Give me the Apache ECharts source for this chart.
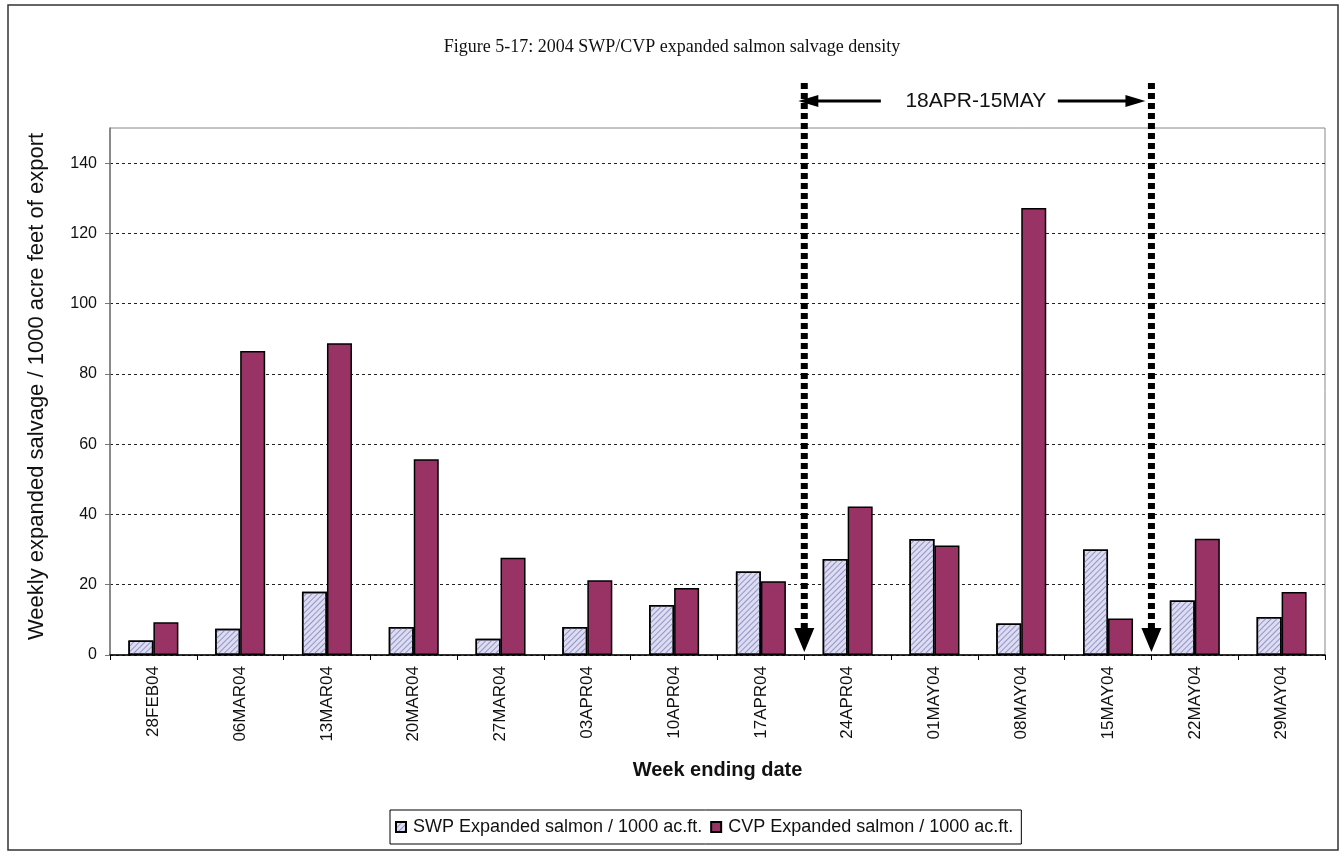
<!DOCTYPE html>
<html>
<head>
<meta charset="utf-8">
<script src="https://cdn.jsdelivr.net/npm/echarts@6/dist/echarts.min.js"></script>
<style>
  html, body { margin: 0; padding: 0; background: #fff; }
  #chart { width: 1344px; height: 852px; }
</style>
</head>
<body>
<div id="chart"></div>
<script>
// week ending dates
var weeks = ['28FEB04', '06MAR04', '13MAR04', '20MAR04', '27MAR04', '03APR04', '10APR04',
             '17APR04', '24APR04', '01MAY04', '08MAY04', '15MAY04', '22MAY04', '29MAY04'];
// expanded salmon per 1000 ac.ft.
var swpDensity = [4.1, 7.5, 18.0, 8.0, 4.6, 8.0, 14.2, 23.8, 27.3, 33.0, 9.0, 30.0, 15.5, 10.8];
var cvpDensity = [9.3, 86.5, 88.7, 55.7, 27.7, 21.3, 19.1, 21.0, 42.3, 31.2, 127.2, 10.4, 33.1, 17.9];
var yTicks = { min: 0, max: 150, interval: 20 };
// window marked on the chart: between 17APR04|24APR04 and 15MAY04|22MAY04
var windowLabel = '18APR-15MAY';
var windowStart = 7, windowEnd = 11;

var chart = echarts.init(document.getElementById('chart'));

var option = {
  animation: false,
  backgroundColor: '#fff',
  title: {
    text: 'Figure 5-17: 2004 SWP/CVP expanded salmon salvage density',
    left: 'center',
    top: 33,
    textStyle: { fontFamily: 'Liberation Serif', fontSize: 18, fontWeight: 'normal', color: '#111' }
  },
  legend: {
    left: 390,
    top: 810,
    itemWidth: 10,
    itemHeight: 10,
    itemGap: 8,
    padding: [8, 8, 8, 5],
    borderColor: '#000',
    borderWidth: 1,
    borderRadius: 0,
    icon: 'rect',
    textStyle: { fontFamily: 'Arial, Liberation Sans', fontSize: 18, color: '#111', padding: [0, 0, 0, 2] }
  },
  grid: {
    left: 110, right: 19, top: 128, bottom: 197,
    show: true, borderColor: '#888', borderWidth: 1, backgroundColor: 'transparent'
  },
  xAxis: {
    type: 'category',
    data: weeks,
    name: 'Week ending date',
    nameLocation: 'middle',
    nameGap: 105,
    nameTextStyle: { fontFamily: 'Arial, Liberation Sans', fontSize: 20, fontWeight: 'bold', color: '#111' },
    axisLine: { lineStyle: { color: '#000', width: 1.5 } },
    axisTick: { show: true, length: 5, lineStyle: { color: '#000' } },
    axisLabel: { rotate: 90, margin: 11, fontFamily: 'Arial, Liberation Sans', fontSize: 17, color: '#111' }
  },
  yAxis: {
    type: 'value',
    min: yTicks.min,
    max: yTicks.max,
    interval: yTicks.interval,
    name: 'Weekly expanded salvage / 1000 acre feet of export',
    nameLocation: 'middle',
    nameGap: 62,
    nameTextStyle: { fontFamily: 'Arial, Liberation Sans', fontSize: 22, color: '#111', padding: [0, 0, 0, 10] },
    axisLine: { show: true, lineStyle: { color: '#777', width: 1.5 } },
    axisTick: { show: true, length: 5, lineStyle: { color: '#777' } },
    axisLabel: { showMaxLabel: false, margin: 13, fontFamily: 'Arial, Liberation Sans', fontSize: 16, color: '#111' },
    splitLine: { show: true, showMaxLine: false, lineStyle: { color: '#222', type: [3, 3], width: 1 } }
  },
  series: [
    {
      name: 'SWP Expanded salmon / 1000 ac.ft.',
      type: 'bar',
      data: swpDensity,
      barWidth: 25,
      barGap: '0%',
      itemStyle: {
        color: '#dcdcf2',
        borderColor: '#000',
        borderWidth: 1.5,
        decal: {
          symbol: 'rect',
          color: '#9494c4',
          dashArrayX: [1, 0],
          dashArrayY: [1, 3],
          rotation: -Math.PI / 4
        }
      }
    },
    {
      name: 'CVP Expanded salmon / 1000 ac.ft.',
      type: 'bar',
      data: cvpDensity,
      barWidth: 25,
      barGap: '0%',
      itemStyle: { color: '#993366', borderColor: '#000', borderWidth: 1.5 }
    }
  ]
};

chart.setOption(option);

// annotation: dotted boundary arrows plus the date-window arrow
function boundaryX(i) {
  var a = chart.convertToPixel({ xAxisIndex: 0 }, i);
  var b = chart.convertToPixel({ xAxisIndex: 0 }, i + 1);
  return (a + b) / 2;
}
var xa = boundaryX(windowStart);
var xb = boundaryX(windowEnd);
var yBase = chart.convertToPixel({ yAxisIndex: 0 }, 0);
var yTop = 83, yArrow = 101;
var black = '#000';

function dropLine(x) {
  return [
    { type: 'line', z: 100, shape: { x1: x, y1: yTop, x2: x, y2: yBase - 27 },
      style: { stroke: black, lineWidth: 7, lineDash: [6, 4] } },
    { type: 'polygon', z: 100, shape: { points: [[x - 10, yBase - 27], [x + 10, yBase - 27], [x, yBase - 3]] },
      style: { fill: black } }
  ];
}

var textCx = (xa + xb) / 2;
var graphics = [
  { type: 'rect', z: -1, shape: { x: 8, y: 5, width: 1330, height: 845 },
    style: { fill: 'none', stroke: '#333', lineWidth: 1.5 } }
]
  .concat(dropLine(xa))
  .concat(dropLine(xb))
  .concat([
    { type: 'line', z: 100, shape: { x1: xa + 12, y1: yArrow, x2: textCx - 97, y2: yArrow },
      style: { stroke: black, lineWidth: 3 } },
    { type: 'polygon', z: 100, shape: { points: [[xa - 6, yArrow], [xa + 14, yArrow - 6], [xa + 14, yArrow + 6]] },
      style: { fill: black } },
    { type: 'line', z: 100, shape: { x1: textCx + 80, y1: yArrow, x2: xb - 14, y2: yArrow },
      style: { stroke: black, lineWidth: 3 } },
    { type: 'polygon', z: 100, shape: { points: [[xb - 6, yArrow], [xb - 26, yArrow - 6], [xb - 26, yArrow + 6]] },
      style: { fill: black } },
    { type: 'text', z: 100, x: textCx - 2, y: yArrow,
      style: { text: windowLabel, fill: '#111', font: '21px Arial, Liberation Sans', align: 'center', verticalAlign: 'middle' } }
  ]);

chart.setOption({ graphic: graphics });
</script>
</body>
</html>
